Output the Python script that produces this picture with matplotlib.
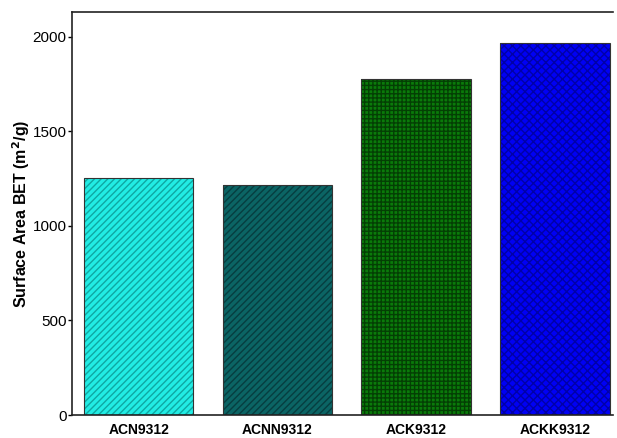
import matplotlib
matplotlib.use("Agg")
import matplotlib.pyplot as plt

plt.rcParams['font.family'] = ['Liberation Sans', 'DejaVu Sans']

categories = ["ACN9312", "ACNN9312", "ACK9312", "ACKK9312"]
surface_area = [1254, 1217, 1778, 1968]
y_ticks = [0, 500, 1000, 1500, 2000]

face_colors = ["#22ece4", "#0b6464", "#0a7a0a", "#0000f5"]
hatch_colors = ["#0ea8a2", "#063e40", "#043f04", "#0000a8"]
hatches = ["/////", "/////", "++++", "xxxx"]

fig = plt.figure(figsize=(6.17, 4.38), dpi=100)
ax = fig.add_axes([0.1167, 0.0525, 0.8768, 0.9201])

x = range(len(categories))
for i, (v, fc, hc, h) in enumerate(zip(surface_area, face_colors, hatch_colors, hatches)):
    ax.bar(i, v, width=0.79, color=fc, edgecolor=hc, hatch=h, linewidth=0)
    ax.bar(i, v, width=0.79, fill=False, edgecolor="#333333", linewidth=0.8)

ax.set_xlim(-0.48, 3.42)
ax.set_ylim(0, 2132)
ax.set_yticks(y_ticks)
ax.set_yticklabels([str(t) for t in y_ticks], fontsize=11)
ax.set_xticks(list(x))
ax.set_xticklabels(categories, fontsize=10, fontweight='bold')
ax.tick_params(axis='x', length=0, pad=6)
ax.tick_params(axis='y', length=3, width=1, pad=1)
ax.set_ylabel("Surface Area BET (m$^{\\mathbf{2}}$/g)", fontsize=11.5, fontweight='bold', labelpad=0)
ax.spines['right'].set_visible(False)
for s in ['left', 'top', 'bottom']:
    ax.spines[s].set_linewidth(1.2)
    ax.spines[s].set_color('#222222')

fig.savefig("out.png", dpi=100)
